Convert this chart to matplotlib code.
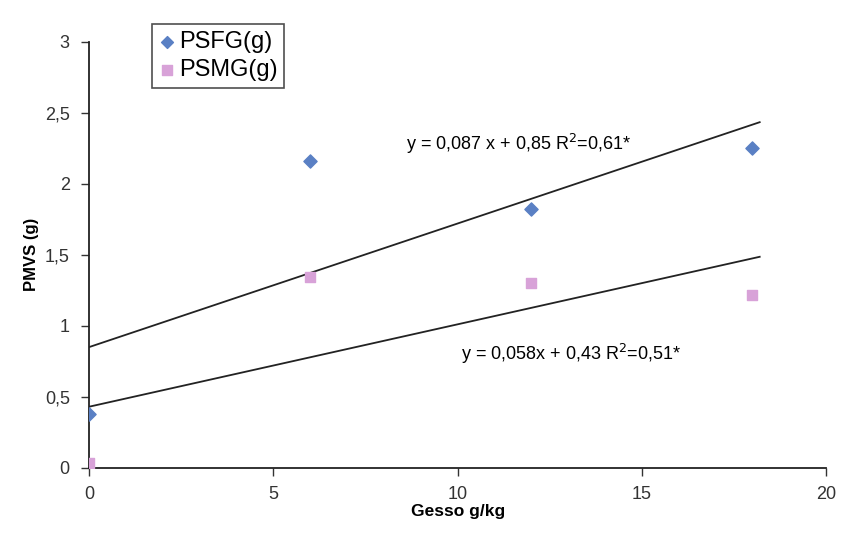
import numpy as np
from matplotlib import pyplot as plt
from matplotlib.ticker import FuncFormatter

# Gesso g/kg
gesso = [0, 6, 12, 18]
psfg = [0.38, 2.16, 1.82, 2.25]
psmg = [0.03, 1.345, 1.30, 1.22]

# coeficientes das linhas de tendencia (a, b) de y = a*x + b
fit_psfg = (0.087, 0.85)
fit_psmg = (0.058, 0.43)

plt.rcParams['font.family'] = ['Liberation Sans', 'DejaVu Sans']

fig = plt.figure(figsize=(8.42, 5.42), dpi=100)
ax = fig.add_axes([0.106, 0.137, 0.875, 0.786])

ax.scatter(gesso, psfg, marker='D', s=45, color='#5a80c4', label='PSFG(g)', zorder=3)
ax.scatter(gesso, psmg, marker='s', s=60, color='#d8a2d8', label='PSMG(g)', zorder=3)

xl = np.array([0, 18.2])
ax.plot(xl, fit_psfg[0] * xl + fit_psfg[1], color='#222222', lw=1.3, zorder=2)
ax.plot(xl, fit_psmg[0] * xl + fit_psmg[1], color='#222222', lw=1.3, zorder=2)

ax.text(8.6, 2.28, 'y = 0,087 x + 0,85 R$^2$=0,61*', fontsize=13, ha='left', va='center')
ax.text(10.1, 0.80, 'y = 0,058x + 0,43 R$^2$=0,51*', fontsize=13, ha='left', va='center')

ax.set_xlim(0, 20)
ax.set_ylim(0, 3)
ax.set_xticks([0, 5, 10, 15, 20])
ax.set_yticks([0, 0.5, 1, 1.5, 2, 2.5, 3])
ax.yaxis.set_major_formatter(FuncFormatter(lambda v, p: ('%g' % v).replace('.', ',')))
ax.tick_params(labelsize=13, colors='#333333', length=6, width=1)
ax.tick_params(axis='x', pad=7)
ax.tick_params(axis='y', pad=8)

for s in ['top', 'right']:
    ax.spines[s].set_visible(False)
for s in ['left', 'bottom']:
    ax.spines[s].set_linewidth(1.3)
    ax.spines[s].set_color('#222222')

ax.set_xlabel('Gesso g/kg', fontsize=12.5, fontweight='bold', labelpad=1)
ax.set_ylabel('PMVS (g)', fontsize=12, fontweight='bold', labelpad=4)

leg = fig.legend(loc='upper left', bbox_to_anchor=(0.166, 0.978), fontsize=17,
                 frameon=True, fancybox=False, edgecolor='#222222',
                 handletextpad=0.15, handlelength=0.7, borderpad=0.3, labelspacing=0.25,
                 markerscale=0.9)
leg.get_frame().set_linewidth(1.2)

plt.savefig('out.png')
